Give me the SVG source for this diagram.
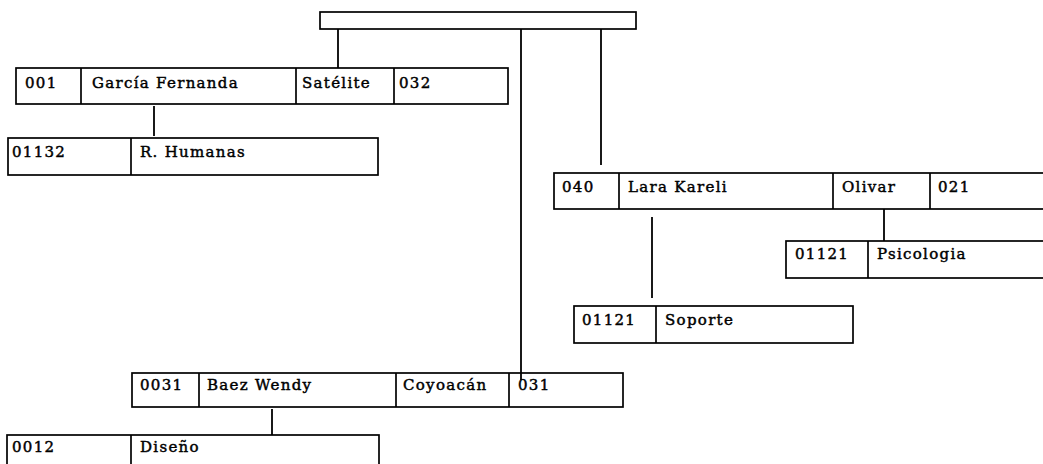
<svg xmlns="http://www.w3.org/2000/svg" width="1043" height="464" viewBox="0 0 1043 464">
<style>
.box{fill:#fff;stroke:#000;stroke-width:1.7}
.div{stroke:#000;stroke-width:1.7}
.c{stroke:#000;stroke-width:1.8;fill:none}
text{font-family:"DejaVu Serif","Liberation Serif",serif;font-size:15px;letter-spacing:1.3px;fill:#000;stroke:#000;stroke-width:0.45}
</style>
<rect width="1043" height="464" fill="#fff"/>
<g id="connectors">
<line class="c" x1="338" y1="29" x2="338" y2="68"/>
<line class="c" x1="521" y1="29" x2="521" y2="378"/>
<line class="c" x1="601" y1="29" x2="601" y2="165"/>
<line class="c" x1="154" y1="106" x2="154" y2="136"/>
<line class="c" x1="884" y1="209" x2="884" y2="242"/>
<line class="c" x1="652" y1="217" x2="652" y2="298"/>
<line class="c" x1="272" y1="409" x2="272" y2="435"/>
</g>
<g id="root">
<rect class="box" x="320" y="12" width="316" height="17"/>
</g>
<g id="garcia">
<rect class="box" x="16" y="68" width="492" height="36"/>
<line class="div" x1="81" y1="68" x2="81" y2="104"/>
<line class="div" x1="296" y1="68" x2="296" y2="104"/>
<line class="div" x1="394" y1="68" x2="394" y2="104"/>
<text x="25" y="88">001</text>
<text x="92" y="88">García Fernanda</text>
<text x="302" y="88">Satélite</text>
<text x="399" y="88">032</text>
</g>
<g id="rhumanas">
<rect class="box" x="8" y="138" width="370" height="37"/>
<line class="div" x1="131" y1="138" x2="131" y2="175"/>
<text x="12" y="157">01132</text>
<text x="140" y="157">R. Humanas</text>
</g>
<g id="lara">
<rect class="box" x="554" y="173" width="500" height="36"/>
<line class="div" x1="619" y1="173" x2="619" y2="209"/>
<line class="div" x1="833" y1="173" x2="833" y2="209"/>
<line class="div" x1="930" y1="173" x2="930" y2="209"/>
<text x="562" y="192">040</text>
<text x="628" y="192">Lara Kareli</text>
<text x="842" y="192">Olivar</text>
<text x="938" y="192">021</text>
</g>
<g id="psicologia">
<rect class="box" x="786" y="241" width="268" height="37"/>
<line class="div" x1="868" y1="241" x2="868" y2="278"/>
<text x="795" y="259">01121</text>
<text x="877" y="259">Psicologia</text>
</g>
<g id="soporte">
<rect class="box" x="574" y="306" width="279" height="37"/>
<line class="div" x1="656" y1="306" x2="656" y2="343"/>
<text x="582" y="325">01121</text>
<text x="665" y="325">Soporte</text>
</g>
<g id="baez">
<rect class="box" x="132" y="373" width="491" height="34"/>
<line class="div" x1="199" y1="373" x2="199" y2="407"/>
<line class="div" x1="396" y1="373" x2="396" y2="407"/>
<line class="div" x1="509" y1="373" x2="509" y2="407"/>
<text x="140" y="390">0031</text>
<text x="207" y="390">Baez Wendy</text>
<text x="403" y="390" letter-spacing="0.3">Coyoacán</text>
<text x="518" y="390">031</text>
</g>
<g id="diseno">
<rect class="box" x="7" y="435" width="372" height="40"/>
<line class="div" x1="131" y1="435" x2="131" y2="475"/>
<text x="12" y="452">0012</text>
<text x="140" y="452">Diseño</text>
</g>
<line class="c" x1="521" y1="373" x2="521" y2="380"/>
</svg>
